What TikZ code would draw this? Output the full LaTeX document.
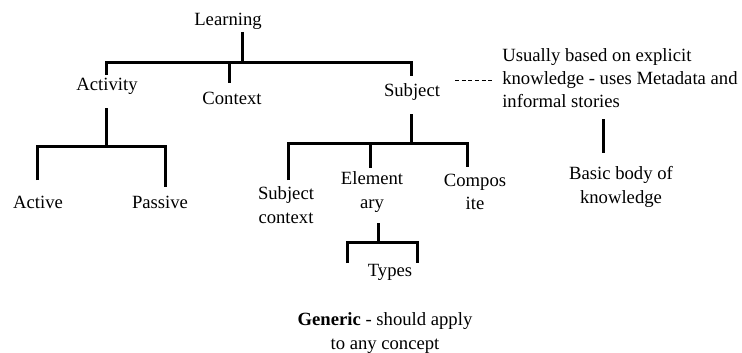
\documentclass[tikz,border=0pt]{standalone}
\usepackage{fontspec}
\setmainfont{Liberation Serif}
\usetikzlibrary{positioning}

\begin{document}
\begin{tikzpicture}[x=0.75pt,y=-0.75pt,
    lbl/.style={font=\fontsize{14}{17.5}\selectfont,align=center,inner sep=0pt},
    branch/.style={line width=2.25pt},
    link/.style={line width=0.75pt,dash pattern=on 3pt off 2pt}
  ]
    \useasboundingbox (0,0) rectangle (742,353);
    % concepts
    \node[lbl] (learn) at (228,21) {Learning};
    \node[lbl] (act) at (107,86) {Activity};
    \node[lbl] (ctx) at (232,98) {Context};
    \node[lbl] (subj) at (412,92) {Subject};
    \node[lbl] (active) at (38,202) {Active};
    \node[lbl] (passive) at (160,202) {Passive};
    \node[lbl] (subctx) at (286,205) {Subject\\context};
    \node[lbl] (elem) at (372,192) {Element\\ary};
    \node[lbl] (comp) at (475,192) {Compos\\ite};
    \node[lbl] (types) at (390,272) {Types};
    \node[lbl,align=left,anchor=west] (note) at (502,78) {Usually based on explicit\\knowledge - uses\ Metadata and\\informal stories};
    \node[lbl] (basic) at (621,187) {Basic body of\\knowledge};
    \node[lbl] (generic) at (385,333) {\textbf{Generic} - should apply\\to any concept};
    % junctions
    \coordinate (learnJ) at (242,63);
    \coordinate (actJ) at (106,146);
    \coordinate (subjJ) at (411,143);
    \coordinate (elemJ) at (378,242);
    % branches
    \draw[branch] (learnJ |- 0,32) -- (learnJ);
    \draw[branch] (106,75) |- (411,63) -- (411,76);
    \draw[branch] (229,63) -- (229,83);
    \draw[branch] (actJ |- 0,108) -- (actJ);
    \draw[branch] (37,180) |- (165,146) -- (165,187);
    \draw[branch] (subjJ |- 0,114) -- (subjJ);
    \draw[branch] (288,180) |- (467,143) -- (467,167);
    \draw[branch] (370,143) -- (370,168);
    \draw[branch] (elemJ |- 0,223) -- (elemJ);
    \draw[branch] (347,263) |- (417,242) -- (417,263);
    \draw[branch] (603,119) -- (603,153);
    \draw[link] (455,81) -- (492,81);
  \end{tikzpicture}
\end{document}
